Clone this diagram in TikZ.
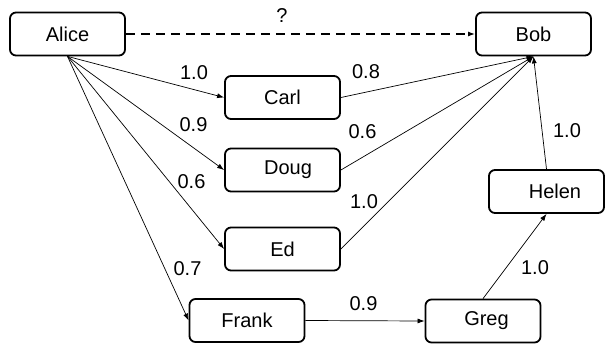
\documentclass[tikz,border=0pt]{standalone}
\usepackage{fontspec}
\setmainfont{Liberation Sans}
\usetikzlibrary{arrows.meta}
\begin{document}
\begin{tikzpicture}[x=1pt,y=-1pt,
  person/.style={draw, line width=1.8pt, rounded corners=6pt,
    minimum width=115pt, minimum height=43pt, inner sep=0pt,
    font=\fontsize{20}{24}\selectfont},
  link/.style={line width=0.7pt, -{Latex[length=7pt,width=5pt]}},
  guess/.style={line width=1.8pt, dash pattern=on 9pt off 6pt,
    -{Latex[length=7pt,width=5pt]}},
  wt/.style={font=\fontsize{20}{24}\selectfont, inner sep=0pt}]
\useasboundingbox (0,0) rectangle (605,343);

% people
\node[person] (alice) at (67.5,34) {Alice};
\node[person] (bob)   at (533.5,34) {Bob};
\node[person] (carl)  at (282.5,97.5) {Carl};
\node[person] (doug)  at (282.5,170) {\hspace*{11pt}Doug};
\node[person] (ed)    at (282.5,249) {Ed};
\node[person] (frank) at (247,320.5) {Frank};
\node[person] (greg)  at (483,321) {\hspace*{7pt}Greg};
\node[person] (helen) at (546.5,191.5) {\hspace*{17pt}Helen};

% unknown trust between Alice and Bob
\draw[guess] (alice.east) -- (bob.west);
\node[wt] (q) at (282,16) {?};

% Alice's direct trust
\draw[link] (alice.south) -- (carl.west);
\draw[link] (alice.south) -- (doug.west);
\draw[link] (alice.south) -- (ed.west);
\draw[link] (alice.south) -- (frank.west);
\node[wt] (wac) at (194,73) {1.0};
\node[wt] (wad) at (193.5,125) {0.9};
\node[wt] (wae) at (191.5,181.5) {0.6};
\node[wt] (waf) at (187.5,268.5) {0.7};

% paths into Bob
\draw[link] (carl.east) -- (bob.south);
\draw[link] (doug.east) -- (bob.south);
\draw[link] (ed.east) -- (bob.south);
\draw[link] (helen.north) -- (bob.south);
\node[wt] (wcb) at (366,72) {0.8};
\node[wt] (wdb) at (362.5,131.5) {0.6};
\node[wt] (web) at (364,202) {1.0};
\node[wt] (whb) at (567,130.5) {1.0};

% Frank - Greg - Helen chain
\draw[link] (frank.east) -- (greg.west);
\draw[link] (greg.north) -- (helen.south);
\node[wt] (wfg) at (363.5,304) {0.9};
\node[wt] (wgh) at (535,268) {1.0};
\end{tikzpicture}
\end{document}
